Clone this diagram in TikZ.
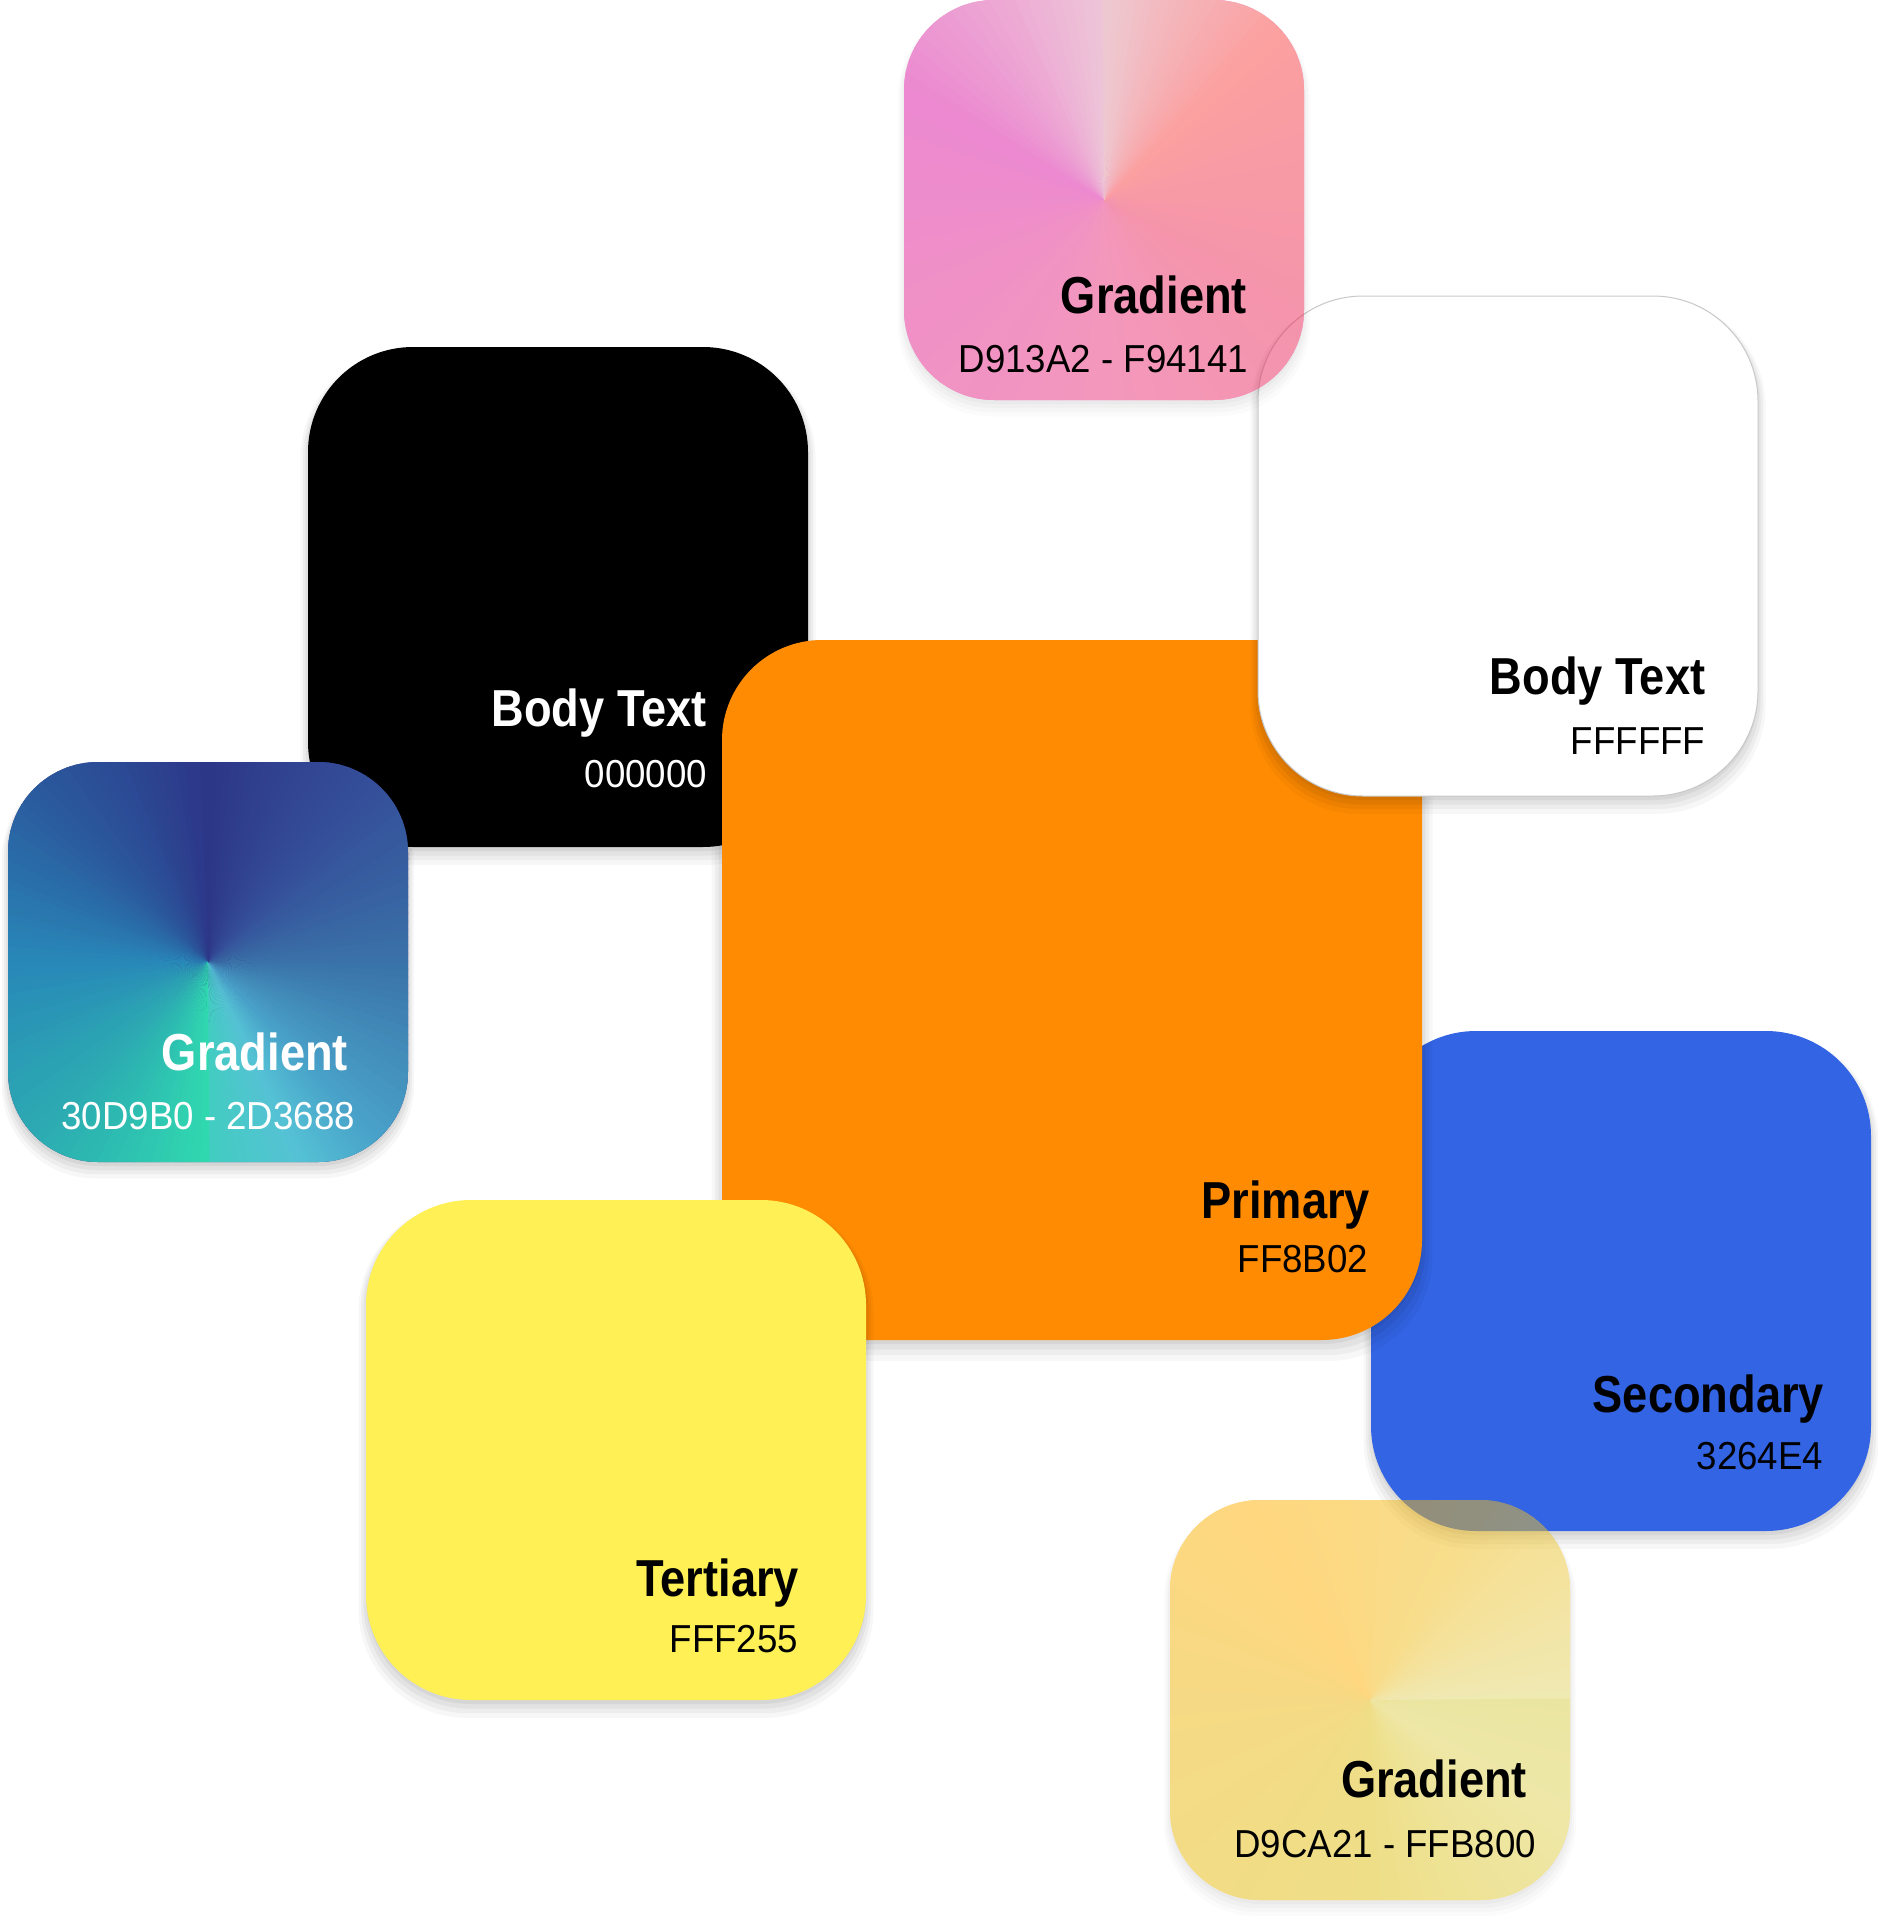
\documentclass[tikz,border=0pt]{standalone}
\usepackage{fontspec}
\setmainfont{Liberation Sans}
\usetikzlibrary{calc, shadows}
\definecolor{cPrimary}{HTML}{FF8B02}
\definecolor{cSecondary}{HTML}{3264E4}
\definecolor{cTertiary}{HTML}{FEF055}
\definecolor{cBorder}{HTML}{C8C8C8}
% conic stops, pink tile
\definecolor{pkA}{HTML}{DC8CB0}
\definecolor{pkB}{HTML}{D913A2}
\definecolor{pkC}{HTML}{E8307A}
\definecolor{pkD}{HTML}{EB2A58}
\definecolor{pkE}{HTML}{F94141}
\definecolor{pkF}{HTML}{DD93A5}
% conic stops, teal tile
\definecolor{tlA}{HTML}{42CDC0}
\definecolor{tlJ}{HTML}{55C2D5}
\definecolor{tlB}{HTML}{48A0C8}
\definecolor{tlC}{HTML}{3A72A8}
\definecolor{tlD}{HTML}{35509A}
\definecolor{tlE}{HTML}{2D3688}
\definecolor{tlF}{HTML}{2A5A9E}
\definecolor{tlG}{HTML}{2888B8}
\definecolor{tlH}{HTML}{2CAAB2}
\definecolor{tlI}{HTML}{30D9B0}
% conic stops, yellow tile
\definecolor{ylA}{HTML}{E0D468}
\definecolor{ylB}{HTML}{F0BC1A}
\definecolor{ylC}{HTML}{FFB000}
\definecolor{ylD}{HTML}{EEB40A}
\definecolor{ylE}{HTML}{DEBE10}
\definecolor{ylF}{HTML}{DDD050}
\definecolor{ylG}{HTML}{D8CC45}
\newcommand{\tilename}[1]{\scalebox{.87}[1]{#1}}
\newcommand{\tilecode}[1]{\scalebox{.94}[1]{#1}}
% wedges round the centre of a path picture, angle/colour/angle/colour
\newcommand{\conicwedges}[1]{%
  \foreach \angA/\colA/\angB/\colB in {#1}{%
    \foreach \k in {0,...,19}{%
      \pgfmathsetmacro\wa{\angA+(\angB-\angA)*\k/20}%
      \pgfmathsetmacro\wb{\angA+(\angB-\angA)*(\k+1)/20+0.4}%
      \pgfmathsetmacro\wmix{100-(\k+0.5)*5}%
      \fill[sharp corners, \colA!\wmix!\colB] (path picture bounding box.center)
        -- +({-\wa}:320) -- +({-\wb}:320) -- cycle;
    }}}
\tikzset{
  swatch/.style={rectangle, minimum width=#1, minimum height=#1, inner sep=0pt},
  tileshadow/.style={
    general shadow={fill=black, opacity=.05, shadow yshift=-4pt},
    general shadow={fill=black, opacity=.05, shadow yshift=-6pt, shadow scale=1.01},
    general shadow={fill=black, opacity=.04, shadow yshift=-8pt, shadow scale=1.02},
    general shadow={fill=black, opacity=.03, shadow yshift=-10pt, shadow scale=1.03}},
  tiletitle/.style={anchor=base east, inner sep=0pt, font=\fontsize{52}{60}\selectfont\bfseries},
  tilehex/.style={anchor=base east, inner sep=0pt, font=\fontsize{39}{46}\selectfont}
}
\begin{document}
\begin{tikzpicture}[x=1pt, y=-1pt]
  \useasboundingbox (0,0) rectangle (1878,1916);

  % body text, dark
  \node[swatch=500pt, rounded corners=105pt, tileshadow, fill=black] (black) at (558,597) {};
  \node[tiletitle, text=white] (blackName) at ($(black.south east)+(-101,-121)$) {\tilename{Body Text}};
  \node[tilehex, text=white] (blackHex) at ($(black.south east)+(-101,-60)$) {\tilecode{000000}};

  % gradient, teal
  \node[swatch=400pt, rounded corners=90pt, tileshadow, fill=tlE,
    path picture={\conicwedges{-90/tlA/-65/tlJ, -65/tlJ/-45/tlB, -45/tlB/0/tlC, 0/tlC/45/tlD,
      45/tlD/90/tlE, 90/tlE/135/tlF, 135/tlF/180/tlG, 180/tlG/225/tlH, 225/tlH/270/tlI}}] (teal) at (208,962) {};
  \node[tiletitle, text=white] (tealName) at ($(teal.south east)+(-60,-92)$) {\tilename{Gradient}};
  \node[tilehex, text=white] (tealHex) at ($(teal.south east)+(-53,-33)$) {\tilecode{30D9B0 - 2D3688}};

  % secondary
  \node[swatch=500pt, rounded corners=105pt, tileshadow, fill=cSecondary] (blue) at (1621,1281) {};
  \node[tiletitle] (blueName) at ($(blue.south east)+(-47,-119)$) {\tilename{Secondary}};
  \node[tilehex] (blueHex) at ($(blue.south east)+(-48,-62)$) {\tilecode{3264E4}};

  % primary
  \node[swatch=700pt, rounded corners=100pt, tileshadow, fill=cPrimary] (orange) at (1072,990) {};
  \node[tiletitle] (orangeName) at ($(orange.south east)+(-52,-122)$) {\tilename{Primary}};
  \node[tilehex] (orangeHex) at ($(orange.south east)+(-54,-68)$) {\tilecode{FF8B02}};

  % tertiary
  \node[swatch=500pt, rounded corners=105pt, tileshadow, fill=cTertiary] (yellow) at (616,1450) {};
  \node[tiletitle] (yellowName) at ($(yellow.south east)+(-67,-104)$) {\tilename{Tertiary}};
  \node[tilehex] (yellowHex) at ($(yellow.south east)+(-68,-48)$) {\tilecode{FFF255}};

  % body text, light
  \node[swatch=500pt, rounded corners=105pt, tileshadow, fill=white, draw=cBorder, line width=1pt] (white) at (1508,546) {};
  \node[tiletitle] (whiteName) at ($(white.south east)+(-53,-102)$) {\tilename{Body Text}};
  \node[tilehex] (whiteHex) at ($(white.south east)+(-53,-42)$) {\tilecode{FFFFFF}};

  % gradient, pink
  \begin{scope}[transparency group, opacity=.5]
    \node[swatch=400pt, rounded corners=90pt, tileshadow, fill=pkB,
      path picture={\conicwedges{90/pkA/150/pkB, 150/pkB/270/pkC, 270/pkC/330/pkD,
        330/pkD/405/pkE, 405/pkE/450/pkF}}] (pink) at (1104,200) {};
  \end{scope}
  \node[tiletitle] (pinkName) at ($(pink.south east)+(-57,-87)$) {\tilename{Gradient}};
  \node[tilehex] (pinkHex) at ($(pink.south east)+(-56,-28)$) {\tilecode{D913A2 - F94141}};

  % gradient, gold
  \begin{scope}[transparency group, opacity=.5]
    \node[swatch=400pt, rounded corners=90pt, tileshadow, fill=ylC,
      path picture={\conicwedges{0/ylA/60/ylB, 60/ylB/120/ylC, 120/ylC/180/ylD,
        180/ylD/270/ylE, 270/ylE/330/ylF, 330/ylF/360/ylG}}] (gold) at (1370,1700) {};
  \end{scope}
  \node[tiletitle] (goldName) at ($(gold.south east)+(-43,-103)$) {\tilename{Gradient}};
  \node[tilehex] (goldHex) at ($(gold.south east)+(-34,-43)$) {\tilecode{D9CA21 - FFB800}};
\end{tikzpicture}
\end{document}
